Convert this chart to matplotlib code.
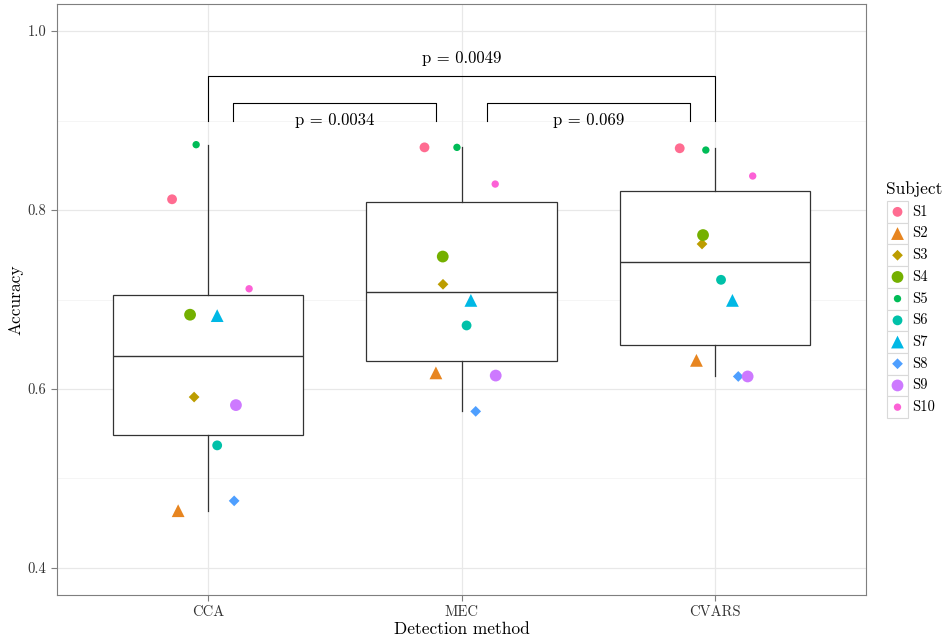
import numpy as np
import matplotlib
matplotlib.use("Agg")
import matplotlib.pyplot as plt
from matplotlib.patches import Rectangle

plt.rcParams['font.family'] = ['cmr10', 'DejaVu Serif']
plt.rcParams['mathtext.fontset'] = 'cm'
plt.rcParams['axes.unicode_minus'] = False

methods = ["CCA", "MEC", "CVARS"]
subjects = ["S1", "S2", "S3", "S4", "S5", "S6", "S7", "S8", "S9", "S10"]

# accuracy per subject, one list per detection method
acc_cca = [0.812, 0.464, 0.591, 0.683, 0.873, 0.537, 0.682, 0.475, 0.582, 0.712]
acc_mec = [0.870, 0.618, 0.717, 0.748, 0.870, 0.671, 0.699, 0.575, 0.615, 0.829]
acc_cvars = [0.869, 0.632, 0.762, 0.772, 0.867, 0.722, 0.699, 0.614, 0.614, 0.838]

# horizontal jitter of each point (fraction of a category step)
jit_cca = [-0.142, -0.118, -0.055, -0.071, -0.047, 0.036, 0.036, 0.103, 0.110, 0.162]
jit_mec = [-0.146, -0.101, -0.073, -0.074, -0.018, 0.020, 0.037, 0.056, 0.135, 0.133]
jit_cvars = [-0.139, -0.073, -0.051, -0.047, -0.036, 0.024, 0.069, 0.092, 0.129, 0.149]

# pairwise comparisons
pairs = [(1, 2), (2, 3), (1, 3)]
pvals = ["p = 0.0034", "p = 0.069", "p = 0.0049"]

y_ticks = [0.4, 0.6, 0.8, 1.0]
y_minor = [0.5, 0.7, 0.9]


def hcl(h, c=100, l=65):
    # polar LUV -> sRGB, like R's hcl()
    xn, yn, zn = 95.047, 100.0, 108.883
    un = 4 * xn / (xn + 15 * yn + 3 * zn)
    vn = 9 * yn / (xn + 15 * yn + 3 * zn)
    U = c * np.cos(np.radians(h))
    V = c * np.sin(np.radians(h))
    Y = yn * ((l + 16) / 116) ** 3
    u = U / (13 * l) + un
    v = V / (13 * l) + vn
    X = 9 * Y * u / (4 * v)
    Z = -X / 3 - 5 * Y + 3 * Y / v
    M = np.array([[3.2404542, -1.5371385, -0.4985314],
                  [-0.9692660, 1.8760108, 0.0415560],
                  [0.0556434, -0.2040259, 1.0572252]])
    rgb = M @ (np.array([X, Y, Z]) / 100)
    rgb = np.where(rgb > 0.0031308, 1.055 * np.abs(rgb) ** (1 / 2.4) - 0.055, 12.92 * rgb)
    return tuple(np.clip(rgb, 0, 1))


colors = [hcl(h) for h in np.linspace(0, 360, 11)[:-1]]
shapes = ['o', '^', 'D', 'o', 'o'] * 2
sizes = [50, 85, 30, 72, 28] * 2

fig = plt.figure(figsize=(9.48, 6.42), dpi=100)
ax = fig.add_axes([57 / 948, 1 - 595 / 642, (866 - 57) / 948, (595 - 4) / 642])

for y in y_minor:
    ax.axhline(y, color='#F5F5F5', lw=0.7, zorder=0)
for y in y_ticks:
    ax.axhline(y, color='#E8E8E8', lw=0.9, zorder=0)
for x in range(1, 4):
    ax.axvline(x, color='#E8E8E8', lw=0.9, zorder=0)

data = [acc_cca, acc_mec, acc_cvars]
lc = '#333333'
ax.boxplot(data, positions=[1, 2, 3], widths=0.75, showfliers=False,
           showcaps=False, patch_artist=True,
           boxprops=dict(facecolor='white', edgecolor=lc, lw=0.9),
           medianprops=dict(color=lc, lw=1.0),
           whiskerprops=dict(color=lc, lw=0.9), zorder=2)

jitters = [jit_cca, jit_mec, jit_cvars]
for k in range(3):
    for i in range(len(subjects)):
        ax.scatter(k + 1 + jitters[k][i], data[k][i], marker=shapes[i], s=sizes[i],
                   color=colors[i], edgecolors='none', zorder=3)

# significance brackets
for (a, b), txt in zip(pairs, pvals):
    if b - a == 1:
        x0, x1, top = a + 0.1, b - 0.1, 0.92
        ax.plot([x0, x0, x1, x1], [0.9, top, top, 0.9], color='black', lw=0.8, zorder=4)
        ax.text((a + b) / 2, 0.9, txt, ha='center', va='center', fontsize=12)
    else:
        top = 0.95
        ax.plot([a, a, b, b], [0.9, top, top, 0.9], color='black', lw=0.8, zorder=4)
        ax.text((a + b) / 2, 0.969, txt, ha='center', va='center', fontsize=12)

ax.set_xlim(0.404, 3.596)
ax.set_ylim(0.3698, 1.0302)
ax.set_xticks([1, 2, 3])
ax.set_xticklabels(methods)
ax.set_yticks(y_ticks)
ax.set_yticklabels(["%.1f" % t for t in y_ticks])
ax.tick_params(length=4, color='#7F7F7F', labelsize=10.5, labelcolor='#333333', width=0.8)
for s in ax.spines.values():
    s.set_color('#7F7F7F')
    s.set_linewidth(0.8)
ax.set_xlabel("Detection method", fontsize=12.5, labelpad=2)
ax.set_ylabel("Accuracy", fontsize=12.5, labelpad=3)

# legend drawn in its own axes, pixel units
lg = fig.add_axes([884 / 948, 1 - 420 / 642, 64 / 948, 245 / 642])
lg.set_xlim(0, 64)
lg.set_ylim(245, 0)
lg.axis('off')
lg.text(2, 14, "Subject", fontsize=12.5, va='center', ha='left')
step = 21.7
for i, name in enumerate(subjects):
    y0 = 26 + i * step
    lg.add_patch(Rectangle((3, y0), 21, step, facecolor='white', edgecolor='#D9D9D9', lw=0.8))
    lg.scatter(13.5, y0 + step / 2, marker=shapes[i], s=sizes[i], color=colors[i],
               edgecolors='none', clip_on=False)
    lg.text(28, y0 + step / 2, name, fontsize=10.5, va='center', ha='left')

fig.savefig("out.png", dpi=100)
